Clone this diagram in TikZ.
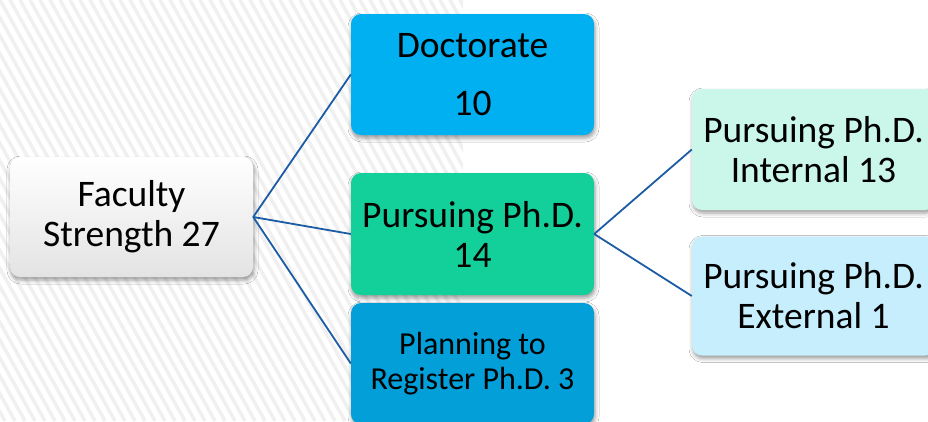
\documentclass[tikz,border=0pt]{standalone}
\usepackage{fontspec}
\setmainfont{Carlito}
\usetikzlibrary{shadows.blur}
\definecolor{docblue}{HTML}{00B0F0}
\definecolor{purgreen}{HTML}{13CF9A}
\definecolor{planblue}{HTML}{029FD8}
\definecolor{intmint}{HTML}{CBF7EA}
\definecolor{extblue}{HTML}{C7EEFC}
\definecolor{connblue}{HTML}{1C5CA4}
\definecolor{stripegray}{HTML}{F0F0F0}
\tikzset{
  box/.style={rounded corners=10pt, minimum width=243pt, inner sep=0pt, align=center,
    font=\fontsize{37.5}{40}\selectfont, text=black,
    blur shadow={shadow xshift=1pt, shadow yshift=-3pt, shadow blur radius=4pt, shadow opacity=40}},
  conn/.style={draw=connblue, line width=1.8pt},
  stripe/.style={draw=stripegray, line width=3.5pt}
}
\begin{document}
\begin{tikzpicture}[x=1pt, y=-1pt]
\useasboundingbox (0,0) rectangle (928,421);
\fill[white] (0,0) rectangle (928,421);
\begin{scope}
  \clip (0,0) rectangle (463,421);
  \foreach \i in {-30,...,50} {
    \draw[stripe] (\i*10,0) -- (\i*10+235,421);
  }
\end{scope}
\node[box, minimum height=120pt, top color=white, bottom color=black!11] (fac) at (131.5,217) {Faculty\\Strength 27};
\node[box, minimum height=121pt, fill=docblue] (doc) at (472.5,74.5) {Doctorate\\[18pt]10};
\node[box, minimum height=122pt, fill=purgreen] (pur) at (472.5,234) {Pursuing Ph.D.\\14};
\node[box, minimum height=121pt, fill=planblue, font=\fontsize{32}{35}\selectfont] (plan) at (472.5,363.5) {Planning to\\Register Ph.D. 3};
\node[box, minimum height=121pt, fill=intmint] (int) at (813.5,149.5) {Pursuing Ph.D.\\Internal 13};
\node[box, minimum height=119pt, fill=extblue] (ext) at (813.5,296) {Pursuing Ph.D.\\External 1};
\draw[conn] (fac.east) -- (doc.west);
\draw[conn] (fac.east) -- (pur.west);
\draw[conn] (fac.east) -- (plan.west);
\draw[conn] (pur.east) -- (int.west);
\draw[conn] (pur.east) -- (ext.west);
\end{tikzpicture}
\end{document}
